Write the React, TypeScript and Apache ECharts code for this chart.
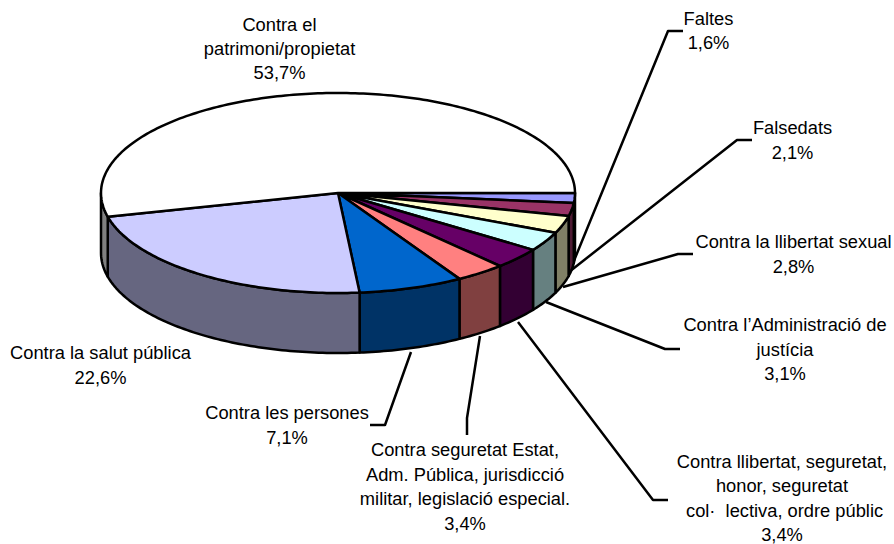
import React, { useEffect, useRef } from "react";
import * as echarts from "echarts";

const categories = [
  "Faltes",
  "Falsedats",
  "Contra la llibertat sexual",
  "Contra l’Administració de\njustícia",
  "Contra llibertat, seguretat,\nhonor, seguretat\n col·  lectiva, ordre públic",
  "Contra seguretat Estat,\nAdm. Pública, jurisdicció\nmilitar, legislació especial.",
  "Contra les persones",
  "Contra la salut pública",
  "Contra el\npatrimoni/propietat",
];
const values = [1.6, 2.1, 2.8, 3.1, 3.4, 3.4, 7.1, 22.6, 53.7];
const percentLabels = ["1,6%", "2,1%", "2,8%", "3,1%", "3,4%", "3,4%", "7,1%", "22,6%", "53,7%"];

const topColors = ["#9999FF", "#993366", "#FFFFCC", "#CCFFFF", "#660066", "#FF8080", "#0066CC", "#CCCCFF", "#FFFFFF"];
const sideColors = ["#4C4C80", "#4D1A33", "#808066", "#668080", "#330033", "#804040", "#003366", "#666680", "#808080"];

const labelCenters = [
  [708.5, 30.5],
  [792.5, 140],
  [793.5, 254],
  [785, 349],
  [782, 498],
  [465, 486.5],
  [287, 425],
  [100.5, 365],
  [279.5, 48.5],
];
const leaderPaths: number[][][] = [
  [[571, 268], [668, 31], [683, 31]],
  [[569, 272], [737, 140], [752, 140]],
  [[563, 287], [678, 254], [693, 254]],
  [[546, 302], [665, 349], [680, 349]],
  [[518, 322], [653, 500], [668, 500]],
  [[480, 336], [467, 418], [467, 435]],
  [[411, 352], [385, 425], [370, 425]],
  [],
  [],
];

const CX = 338;
const CY = 193;
const RX = 237;
const RY = 100;
const DEPTH = 60;
const FONT = "'Liberation Sans', Arial, sans-serif";

const total = values.reduce((a, b) => a + b, 0);
const cumulative = values.reduce<number[]>((acc, v) => {
  acc.push(acc[acc.length - 1] + v);
  return acc;
}, [0]);

const toAngle = (share: number) => (share / total) * 360;
const rim = (deg: number, drop = 0) => {
  const t = (deg * Math.PI) / 180;
  return [CX + RX * Math.cos(t), CY + RY * Math.sin(t) + drop];
};
const arc = (from: number, to: number, drop = 0) => {
  const n = Math.max(2, Math.ceil(Math.abs(to - from)));
  const pts: number[][] = [];
  for (let i = 0; i <= n; i++) pts.push(rim(from + ((to - from) * i) / n, drop));
  return pts;
};

const lineStyle = { stroke: "#000", lineWidth: 2.5, lineJoin: "round" as const };
const rows = values.map((v) => [v]);

export default function App() {
  const ref = useRef<HTMLDivElement>(null);
  useEffect(() => {
    document.body.style.margin = "0";
    const chart = echarts.init(ref.current!, undefined, { renderer: "svg" });
    chart.setOption({
      animation: false,
      backgroundColor: "#fff",
      series: [
        {
          type: "custom",
          coordinateSystem: "none",
          silent: true,
          z: 1,
          data: rows,
          renderItem: (p: any) => {
            const path = leaderPaths[p.dataIndex];
            if (!path.length) return { type: "group", children: [] };
            return {
              type: "polyline",
              shape: { points: path },
              style: { ...lineStyle, fill: "none" },
            };
          },
        },
        {
          type: "custom",
          coordinateSystem: "none",
          silent: true,
          z: 2,
          data: rows,
          renderItem: (p: any, api: any) => {
            const i = p.dataIndex;
            const from = toAngle(cumulative[i]);
            const to = from + toAngle(api.value(0));
            const a = Math.max(from, 0);
            const b = Math.min(to, 180);
            if (b <= a) return { type: "group", children: [] };
            return {
              type: "polygon",
              shape: { points: [...arc(a, b), ...arc(b, a, DEPTH)] },
              style: { ...lineStyle, fill: sideColors[i] },
            };
          },
        },
        {
          type: "custom",
          coordinateSystem: "none",
          silent: true,
          z: 3,
          data: rows,
          renderItem: (p: any, api: any) => {
            const i = p.dataIndex;
            const from = toAngle(cumulative[i]);
            const to = from + toAngle(api.value(0));
            return {
              type: "polygon",
              shape: { points: [[CX, CY], ...arc(from, to)] },
              style: { ...lineStyle, fill: topColors[i] },
            };
          },
        },
        {
          type: "custom",
          coordinateSystem: "none",
          silent: true,
          z: 4,
          data: rows,
          renderItem: (p: any) => {
            const i = p.dataIndex;
            return {
              type: "text",
              x: labelCenters[i][0],
              y: labelCenters[i][1],
              style: {
                text: categories[i] + "\n" + percentLabels[i],
                fontFamily: FONT,
                fontSize: 18.3,
                lineHeight: 24.4,
                fill: "#000",
                align: "center",
                verticalAlign: "middle",
              },
            };
          },
        },
      ],
    });
    return () => chart.dispose();
  }, []);
  return <div ref={ref} style={{ width: 894, height: 544 }} />;
}
